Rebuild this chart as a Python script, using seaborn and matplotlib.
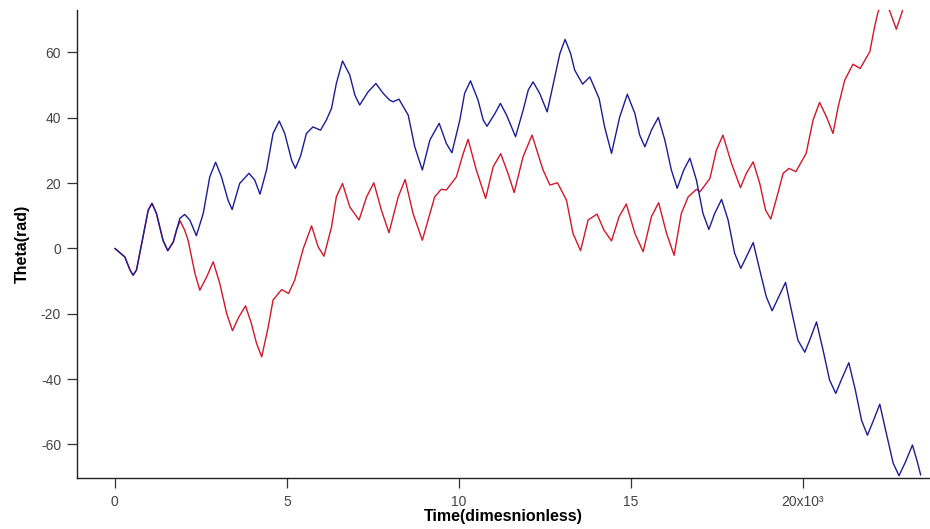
import matplotlib
matplotlib.use("Agg")
import matplotlib.pyplot as plt
import seaborn as sns
import pandas as pd
from matplotlib.ticker import FixedLocator, FixedFormatter

# ---- data ----
blue_t = [0.00, 0.29, 0.44, 0.53, 0.63, 0.82, 0.97, 1.08, 1.21, 1.40, 1.54, 1.70, 1.89, 2.03,
          2.18, 2.37, 2.57, 2.76, 2.93, 3.10, 3.29, 3.41, 3.63, 3.90, 4.07, 4.22, 4.41, 4.60,
          4.78, 4.94, 5.14, 5.25, 5.40, 5.57, 5.76, 5.98, 6.15, 6.30, 6.44, 6.62, 6.83, 6.98,
          7.12, 7.36, 7.59, 7.80, 7.99, 8.09, 8.26, 8.53, 8.72, 8.94, 9.16, 9.43, 9.64, 9.80,
          10.03, 10.17, 10.34, 10.56, 10.71, 10.82, 11.05, 11.21, 11.39, 11.65, 11.87, 12.02,
          12.16, 12.35, 12.57, 12.79, 12.94, 13.09, 13.25, 13.37, 13.60, 13.81, 14.08, 14.24,
          14.44, 14.68, 14.90, 15.12, 15.26, 15.41, 15.60, 15.80, 15.99, 16.18, 16.35, 16.54,
          16.72, 16.91, 17.10, 17.27, 17.44, 17.64, 17.83, 18.02, 18.20, 18.36, 18.56, 18.75,
          18.94, 19.11, 19.28, 19.50, 19.67, 19.86, 20.06, 20.22, 20.40, 20.59, 20.78, 20.96,
          21.12, 21.34, 21.53, 21.71, 21.88, 22.04, 22.24, 22.43, 22.63, 22.80, 22.99, 23.19,
          23.33, 23.43]
blue_theta = [0.0, -2.6, -6.6, -8.2, -6.6, 3.6, 11.7, 13.8, 10.7, 2.5, -0.7, 2.0, 9.2, 10.4,
              8.7, 3.9, 10.7, 21.9, 26.4, 21.9, 14.8, 11.9, 19.9, 23.0, 20.9, 16.6, 24.0, 35.2,
              39.0, 35.2, 27.0, 24.5, 28.3, 35.2, 37.2, 36.2, 39.3, 42.9, 50.5, 57.4, 53.1, 46.9,
              43.9, 47.9, 50.5, 47.5, 45.4, 44.9, 45.7, 40.8, 31.1, 24.0, 33.2, 38.3, 32.1, 29.3,
              39.3, 47.5, 51.3, 45.4, 39.3, 37.4, 41.3, 44.4, 40.8, 34.2, 42.3, 48.5,
              51.0, 47.5, 41.8, 52.5, 59.7, 64.0, 59.7, 54.6, 50.3, 52.5, 45.9, 37.2,
              29.1, 40.3, 47.2, 41.3, 34.7, 31.1, 36.2, 40.1, 33.2, 24.0, 18.4, 24.0,
              27.6, 20.9, 10.7, 5.8, 10.7, 15.0, 8.7, -1.5, -6.1, -2.6, 1.8, -6.6,
              -14.8, -19.1, -15.3, -10.4, -18.9, -28.1, -31.8, -27.6, -22.5, -31.1, -40.3, -44.4,
              -40.3, -35.0, -43.4, -52.6, -57.2, -53.1, -47.7, -56.6, -65.8, -69.6, -65.3, -60.2,
              -65.3, -69.4]

red_t = [0.00, 0.29, 0.44, 0.53, 0.63, 0.82, 0.97, 1.08, 1.21, 1.40, 1.54, 1.70, 1.79, 1.90,
         2.03, 2.13, 2.33, 2.47, 2.67, 2.86, 3.05, 3.25, 3.42, 3.61, 3.80, 3.97, 4.12, 4.27,
         4.46, 4.60, 4.85, 5.05, 5.23, 5.35, 5.48, 5.72, 5.91, 6.08, 6.30, 6.44, 6.62, 6.83,
         7.10, 7.32, 7.53, 7.75, 7.97, 8.24, 8.44, 8.67, 8.94, 9.30, 9.49, 9.64, 9.93, 10.13,
         10.27, 10.51, 10.78, 11.00, 11.22, 11.43, 11.61, 11.87, 12.13, 12.45, 12.65, 12.87,
         13.13, 13.32, 13.54, 13.76, 14.02, 14.22, 14.44, 14.66, 14.87, 15.12, 15.36, 15.60,
         15.81, 16.04, 16.26, 16.47, 16.67, 16.91, 17.01, 17.30, 17.49, 17.68, 17.93, 18.19,
         18.36, 18.56, 18.75, 18.92, 19.07, 19.25, 19.43, 19.60, 19.80, 20.10, 20.30, 20.49,
         20.69, 20.88, 21.03, 21.22, 21.46, 21.67, 21.95, 22.09, 22.19, 22.35, 22.53, 22.72,
         22.89, 23.00]
red_theta = [0.0, -2.6, -6.6, -8.2, -6.6, 3.6, 11.7, 13.8, 10.7, 2.5, -0.7, 2.0, 5.6, 8.4,
             5.6, 2.5, -7.7, -12.8, -8.7, -4.1, -10.7, -19.9, -25.2, -20.9, -17.6, -23.0, -29.1, -33.2,
             -24.0, -15.8, -12.6, -13.8, -9.7, -5.0, 0.0, 6.9, 0.5, -2.4, 6.6, 15.8, 19.9, 12.7,
             8.7, 15.8, 20.1, 11.7, 4.8, 15.8, 21.1, 10.7, 2.5, 15.8, 18.1, 17.9, 21.9, 29.1,
             33.4, 24.0, 15.3, 25.0, 29.0, 23.0, 17.1, 28.1, 34.7, 24.0, 19.4, 20.1,
             14.8, 4.6, -0.7, 8.7, 10.5, 5.6, 2.3, 9.7, 13.6, 4.6, -1.0, 9.7,
             14.0, 4.6, -2.1, 10.7, 15.8, 18.1, 17.3, 21.4, 30.1, 34.7, 26.0, 18.6,
             23.0, 26.5, 19.9, 11.7, 9.0, 15.8, 23.0, 24.5, 23.5, 29.1, 39.3, 44.7,
             40.3, 35.2, 43.4, 51.5, 56.4, 55.1, 60.2, 67.9, 72.4, 76.0, 72.7, 67.1,
             72.4, 78.0]

x_ticks = [0, 5, 10, 15, 20]
x_tick_labels = ["0", "5", "10", "15", "20x10\u00b3"]
y_ticks = [-60, -40, -20, 0, 20, 40, 60]
y_tick_labels = ["-60", "-40", "-20", "0", "20", "40", "60"]

# ---- plot ----
sns.set_style("white")
plt.rcParams["font.family"] = ["Liberation Sans", "DejaVu Sans"]

fig = plt.figure(figsize=(9.30, 5.29), dpi=100)
ax = fig.add_axes([0.0828, 0.0964, 0.9172, 0.8847])

red_df = pd.DataFrame({"t": red_t, "theta": red_theta})
blue_df = pd.DataFrame({"t": blue_t, "theta": blue_theta})
sns.lineplot(data=red_df, x="t", y="theta", color="#d01828", linewidth=1.0,
             estimator=None, sort=False, ax=ax)
sns.lineplot(data=blue_df, x="t", y="theta", color="#1c1c96", linewidth=1.0,
             estimator=None, sort=False, ax=ax)

ax.set_xlim(-1.1, 23.7)
ax.set_ylim(-70.3, 73.0)

ax.xaxis.set_major_locator(FixedLocator(x_ticks))
ax.xaxis.set_major_formatter(FixedFormatter(x_tick_labels))
ax.yaxis.set_major_locator(FixedLocator(y_ticks))
ax.yaxis.set_major_formatter(FixedFormatter(y_tick_labels))

for side in ["top", "right"]:
    ax.spines[side].set_visible(False)
for side in ["left", "bottom"]:
    ax.spines[side].set_color("#222222")
    ax.spines[side].set_linewidth(1.0)

ax.tick_params(axis="both", which="major", direction="out", length=7.5, width=0.9,
               color="#333333", labelcolor="#444444", labelsize=10,
               bottom=True, left=True, top=False, right=False)
ax.tick_params(axis="x", pad=5)
ax.tick_params(axis="y", pad=4)

ax.set_xlabel("Time(dimesnionless)", fontsize=11.5, fontweight="bold", color="black", labelpad=0)
ax.set_ylabel("Theta(rad)", fontsize=11.5, fontweight="bold", color="black", labelpad=8)

fig.savefig("out.png", dpi=100)
